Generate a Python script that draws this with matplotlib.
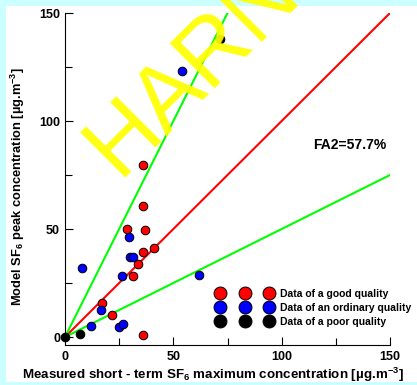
import numpy as np
import matplotlib
matplotlib.use('Agg')
from matplotlib import pyplot as plt
from matplotlib.patches import Rectangle

plt.rcParams['font.family'] = ['Liberation Sans', 'DejaVu Sans']
plt.rcParams['font.weight'] = 'bold'
plt.rcParams['mathtext.fontset'] = 'custom'
plt.rcParams['mathtext.rm'] = 'Liberation Sans:bold'
plt.rcParams['mathtext.bf'] = 'Liberation Sans:bold'

# Data
good_x = [35.8, 36.1, 28.5, 36.9, 36.1, 41.1, 33.8, 31.2, 17.2, 21.5, 36.1]
good_y = [79.5, 60.5, 50.2, 49.7, 39.4, 41.4, 33.7, 28.1, 15.7, 10.0, 0.9]
ordinary_x = [53.9, 29.7, 30.0, 31.2, 26.2, 7.8, 16.5, 11.9, 25.1, 26.9, 61.8]
ordinary_y = [123.0, 46.3, 37.0, 37.0, 28.4, 31.8, 12.7, 5.0, 4.6, 6.2, 28.6]
poor_x = [0.0, 6.9, 71.5]
poor_y = [0.0, 1.2, 138.0]

line_x = [0, 150]
fa2_label = 'FA2=57.7%'
ticks = [0, 50, 100, 150]
minor_ticks = [25, 75, 125]

fig = plt.figure(figsize=(4.17, 3.85), dpi=100, facecolor='#CCFFFF')
# white panel inside the cyan frame
fig.patches.append(Rectangle((6/417, 3/385), 1 - 6/417, 1 - 9/385,
                             transform=fig.transFigure, facecolor='white',
                             edgecolor='none', zorder=-5))

ax = fig.add_axes([65/417, 1 - 337/385, 325/417, 324/385])
ax.set_facecolor('none')

# 1:1 and factor-of-two lines
ax.plot(line_x, line_x, '-', color='#FF0000', lw=1.5, zorder=2)
ax.plot([0, 75], [0, 150], '-', color='#00FF00', lw=1.5, zorder=2)
ax.plot(line_x, [0, 75], '-', color='#00FF00', lw=1.5, zorder=2)

ms = 6.2
ax.plot(good_x, good_y, 'o', color='#FF0000', mec='black', mew=0.7, ms=ms,
        label='Data of a good quality', zorder=3, clip_on=False)
ax.plot(ordinary_x, ordinary_y, 'o', color='#0000FF', mec='black', mew=0.7, ms=ms,
        label='Data of an ordinary quality', zorder=3, clip_on=False)
ax.plot(poor_x, poor_y, 'o', color='black', mec='black', mew=0.7, ms=ms,
        label='Data of a poor quality', zorder=3, clip_on=False)

ax.set_xlim(0, 150)
ax.set_ylim(0, 150)
ax.set_xticks(ticks)
ax.set_yticks(ticks)
ax.set_xticks(minor_ticks, minor=True)
ax.set_yticks(minor_ticks, minor=True)
ax.tick_params(which='both', direction='in', labelsize=9, width=0.8)
ax.tick_params(which='major', length=6)
ax.tick_params(which='minor', length=5)
ax.tick_params(axis='x', which='major', pad=4)
for lab in ax.get_xticklabels() + ax.get_yticklabels():
    lab.set_fontweight('bold')
ax.spines['top'].set_visible(False)
ax.spines['right'].set_visible(False)
ax.spines['bottom'].set_position(('outward', 6))
ax.spines['left'].set_linewidth(0.8)
ax.spines['bottom'].set_linewidth(0.8)

ax.set_xlabel(r'Measured short - term SF$_\mathbf{6}$ maximum concentration [µg.m$^\mathbf{-3}$]',
              fontsize=9.6, fontweight='bold')
ax.xaxis.set_label_coords((213 - 65)/325, -(375 - 337)/324)
ax.xaxis.label.set_va('center')
ax.set_ylabel(r'Model SF$_\mathbf{6}$ peak concentration [µg.m$^\mathbf{-3}$]',
              fontsize=9.3, fontweight='bold')
ax.yaxis.set_label_coords(-(65 - 18)/325, (337 - 187)/324)
ax.yaxis.label.set_va('center')

ax.text((350 - 65)/325, (337 - 145)/324, fa2_label, transform=ax.transAxes,
        ha='center', va='center', fontsize=10, fontweight='bold')

leg = ax.legend(loc='center left', bbox_to_anchor=(152/325, 1 - (307.5 - 12.7)/324),
                numpoints=3, markerscale=1.5, frameon=False, fontsize=7.5,
                handlelength=5.3, handletextpad=0.75, labelspacing=0.38,
                borderpad=0, borderaxespad=0)
for t in leg.get_texts():
    t.set_fontweight('bold')

# watermark
fig.text(118/417, 1 - 178/385, 'HARN', rotation=45, rotation_mode='anchor',
         ha='left', va='baseline', fontsize=66, color='#FFFF00', alpha=0.93,
         fontweight='normal', zorder=10)

fig.savefig('out.png', dpi=100, facecolor=fig.get_facecolor())
